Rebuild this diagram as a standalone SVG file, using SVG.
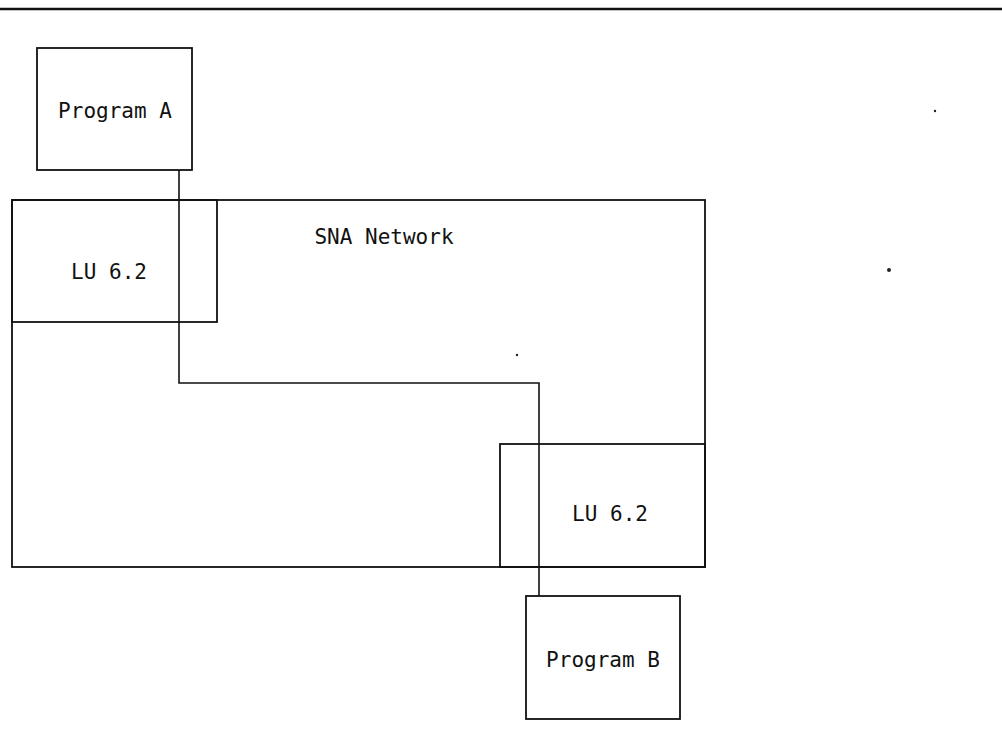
<svg xmlns="http://www.w3.org/2000/svg" width="1002" height="731" viewBox="0 0 1002 731">
  <style>
    .box { fill: none; stroke: #111; stroke-width: 1.8; }
    .wire { fill: none; stroke: #111; stroke-width: 1.6; }
    .lbl { font-family: "DejaVu Sans Mono", "Liberation Mono", monospace; font-size: 21px; fill: #111; text-anchor: middle; }
    .speck { fill: #222; }
  </style>
  <rect width="1002" height="731" fill="#fff"/>

  <!-- page rule -->
  <line x1="0" y1="9" x2="1002" y2="9" stroke="#111" stroke-width="2.6"/>

  <g id="sna-network">
    <rect class="box" x="12" y="200" width="693" height="367"/>
    <text class="lbl" x="384" y="244">SNA Network</text>
  </g>

  <g id="lu-a">
    <rect class="box" x="12" y="200" width="205" height="122"/>
    <text class="lbl" x="109" y="279">LU 6.2</text>
  </g>

  <g id="lu-b">
    <rect class="box" x="500" y="444" width="205" height="123"/>
    <text class="lbl" x="610" y="521">LU 6.2</text>
  </g>

  <g id="program-a">
    <rect class="box" x="37" y="48" width="155" height="122"/>
    <text class="lbl" x="115" y="118">Program A</text>
  </g>

  <g id="program-b">
    <rect class="box" x="526" y="596" width="154" height="123"/>
    <text class="lbl" x="603" y="667">Program B</text>
  </g>

  <g id="connectors">
    <polyline class="wire" points="179,170 179,383 539,383 539,596"/>
  </g>

  <!-- specks -->
  <circle class="speck" cx="889" cy="270" r="2"/>
  <circle class="speck" cx="935" cy="111" r="1.2"/>
  <circle class="speck" cx="517" cy="355" r="1.2"/>
</svg>
